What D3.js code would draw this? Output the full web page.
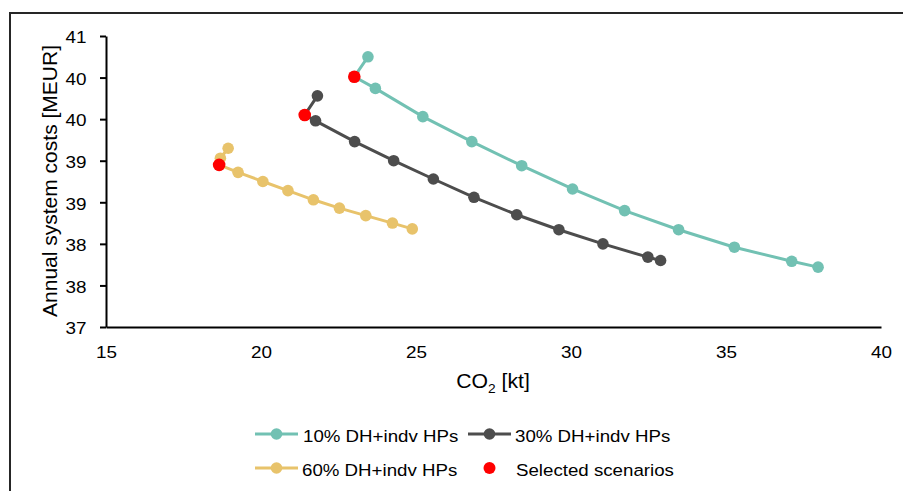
<!DOCTYPE html>
<html><head><meta charset="utf-8">
<script src="https://cdn.jsdelivr.net/npm/d3@7"></script>
<style>
html,body{margin:0;padding:0;background:#fff;}
svg{display:block;font-family:"Liberation Sans",Arial,sans-serif;}
</style></head>
<body><svg id="c" width="903" height="491"></svg>
<script>
const seriesNames = ["10% DH+indv HPs","30% DH+indv HPs","60% DH+indv HPs","Selected scenarios"];
const seriesColors = ["#72C1B3","#4D4D4D","#E8C36B","#FF0000"];

const dh10_co2  = [23.45,23.01,23.69,25.22,26.80,28.41,30.05,31.73,33.47,35.27,37.12,37.97];
const dh10_cost = [40.25,40.01,39.87,39.53,39.23,38.94,38.66,38.40,38.17,37.96,37.79,37.72];
const dh30_co2  = [21.82,21.41,21.76,23.02,24.28,25.56,26.87,28.25,29.61,31.03,32.48,32.89];
const dh30_cost = [39.78,39.55,39.48,39.23,39.00,38.78,38.56,38.35,38.17,38.00,37.84,37.80];
const dh60_co2  = [18.94,18.69,18.65,19.26,20.06,20.87,21.69,22.53,23.38,24.24,24.88];
const dh60_cost = [39.15,39.03,38.95,38.86,38.75,38.64,38.53,38.43,38.34,38.25,38.18];
const sel_co2  = [23.01,21.41,18.65];
const sel_cost = [40.01,39.55,38.95];

const xTicks = [15,20,25,30,35,40];
const yTicks = [37,37.5,38,38.5,39,39.5,40,40.5];
const yTickLabels = ["37","38","38","39","39","40","40","41"];
const xTitle = "CO";
const yTitle = "Annual system costs [MEUR]";

const svg = d3.select("#c");
const x = d3.scaleLinear().domain([15,40]).range([106,881]);
const y = d3.scaleLinear().domain([37,40.5]).range([327,36]);

// frame
svg.append("line").attr("x1",9).attr("x2",903).attr("y1",13).attr("y2",13).attr("stroke","#262626").attr("stroke-width",2);
svg.append("line").attr("x1",10).attr("x2",10).attr("y1",12).attr("y2",491).attr("stroke","#262626").attr("stroke-width",2);

// axes
const yAxis = d3.axisLeft(y).tickValues(yTicks).tickSize(6).tickSizeOuter(0)
  .tickFormat((d,i)=>yTickLabels[i]);
const gy = svg.append("g").attr("transform","translate(106,0)").call(yAxis);
gy.select(".domain").attr("stroke","#000").attr("stroke-width",2);
gy.selectAll(".tick line").attr("stroke","#000").attr("stroke-width",2);
gy.selectAll("text").attr("font-size",16).attr("fill","#000").attr("font-family","Liberation Sans, Arial, sans-serif")
  .attr("x",0).attr("text-anchor","end").attr("dy","0.36em").attr("transform","translate(-19.5,1) scale(1.18,1)");

const xAxis = d3.axisBottom(x).tickValues(xTicks).tickSize(0).tickSizeOuter(0);
const gx = svg.append("g").attr("transform","translate(0,327)").call(xAxis);
gx.select(".domain").attr("stroke","#000").attr("stroke-width",2);
gx.selectAll("text").attr("font-size",16).attr("fill","#000").attr("font-family","Liberation Sans, Arial, sans-serif")
  .attr("y",0).attr("dy",0).attr("transform","translate(0,30.5) scale(1.18,1)");

// titles
const xt = svg.append("text").attr("transform","translate(493,388) scale(1.06,1)").attr("text-anchor","middle").attr("font-size",20).attr("fill","#000");
xt.append("tspan").text(xTitle);
xt.append("tspan").attr("font-size",13).attr("dy",5).text("2");
xt.append("tspan").attr("dy",-5).text(" [kt]");
svg.append("text").attr("transform","translate(57,181) rotate(-90)").attr("text-anchor","middle")
  .attr("font-size",21).attr("fill","#000").text(yTitle);

// series
const line = d3.line().x(d=>x(d[0])).y(d=>y(d[1]));
const series = [
  {co2:dh10_co2,cost:dh10_cost,color:seriesColors[0]},
  {co2:dh30_co2,cost:dh30_cost,color:seriesColors[1]},
  {co2:dh60_co2,cost:dh60_cost,color:seriesColors[2]}
];
series.forEach(s=>{
  const pts = s.co2.map((v,i)=>[v,s.cost[i]]);
  svg.append("path").datum(pts).attr("d",line).attr("fill","none").attr("stroke",s.color).attr("stroke-width",3);
  svg.append("g").selectAll("circle").data(pts).join("circle")
    .attr("cx",d=>x(d[0])).attr("cy",d=>y(d[1])).attr("r",5.8).attr("fill",s.color);
});
const selPts = sel_co2.map((v,i)=>[v,sel_cost[i]]);
svg.append("g").selectAll("circle").data(selPts).join("circle")
  .attr("cx",d=>x(d[0])).attr("cy",d=>y(d[1])).attr("r",6.3).attr("fill",seriesColors[3]);

// legend
const legendItems = [
  {name:seriesNames[0],color:seriesColors[0],lx:255,ly:434,tx:303,line:true},
  {name:seriesNames[1],color:seriesColors[1],lx:468,ly:434,tx:515,line:true},
  {name:seriesNames[2],color:seriesColors[2],lx:255,ly:468,tx:302,line:true},
  {name:seriesNames[3],color:seriesColors[3],lx:468,ly:468,tx:516,line:false}
];
legendItems.forEach(it=>{
  const g = svg.append("g");
  if(it.line){
    g.append("line").attr("x1",it.lx).attr("x2",it.lx+43).attr("y1",it.ly).attr("y2",it.ly).attr("stroke",it.color).attr("stroke-width",3);
  }
  g.append("circle").attr("cx",it.lx+21.5).attr("cy",it.ly).attr("r",it.line?5.8:6).attr("fill",it.color);
  g.append("text").attr("transform",`translate(${it.tx},${it.ly+7.5}) scale(1.1,1)`).attr("font-size",17).attr("fill","#000").text(it.name);
});
</script></body></html>
